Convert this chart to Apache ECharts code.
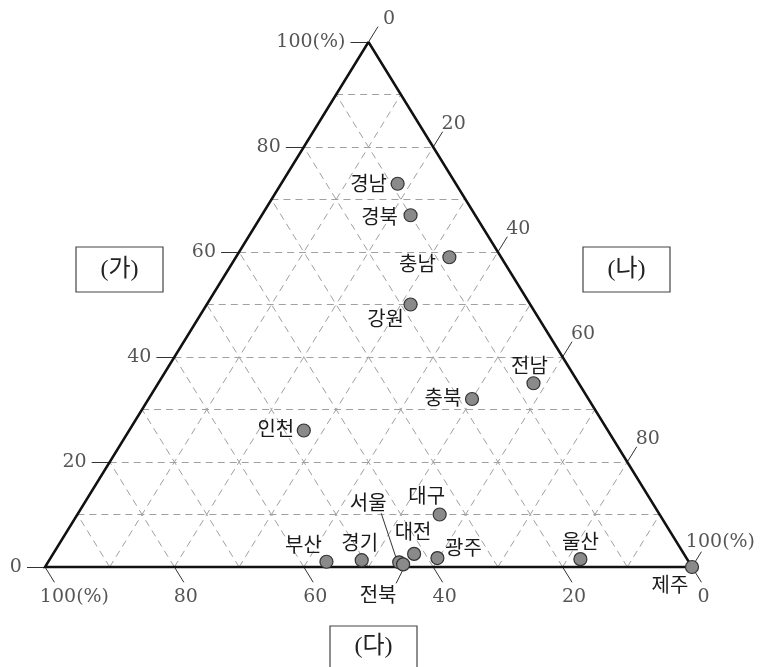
<!DOCTYPE html>
<html><head><meta charset="utf-8">
<script src="https://cdn.jsdelivr.net/npm/echarts@6/dist/echarts.min.js"></script>
<style>html,body{margin:0;padding:0;background:#fff}#c{width:762px;height:667px}</style>
</head><body><div id="c"></div>
<script>
// ---- data (percent shares) ----
const regions = ['경남','경북','충남','강원','인천','충북','전남','대구','부산','경기','서울','전북','대전','광주','울산','제주'];
const valGa = [73, 67, 59, 50, 26, 32, 35, 10, 1, 1.3, 0.9, 0.5, 2.5, 1.7, 1.5, 0];
const valNa = [18, 23, 33, 31.5, 27, 50, 58, 56, 43, 48.3, 54.3, 55.1, 55.8, 59.8, 82, 100];
const valDa = [9, 10, 8, 18.5, 47, 18, 7, 34, 56, 50.4, 44.8, 44.4, 41.7, 38.5, 16.5, 0];
const tickVals = [0, 20, 40, 60, 80, 100];
const tickLabels = ['0', '20', '40', '60', '80', '100(%)'];
const gridVals = [10, 20, 30, 40, 50, 60, 70, 80, 90];

// ---- styling / layout ----
const GL = 45, GT = 42, GW = 647, GH = 525;
const labelOffsets = {
  '경남': [-29, 0], '경북': [-31, 1], '충남': [-32, 6], '강원': [-25, 14], '인천': [-28, -2],
  '충북': [-29, -2], '전남': [-4, -18], '대구': [-13, -19], '부산': [-23, -17], '경기': [-2, -18],
  '서울': [-31, -60], '전북': [-25, 30], '대전': [-1, -22], '광주': [26, -11], '울산': [0, -18],
  '제주': [-22, 17]
};
const leaders = { '서울': [[-18, -49], [-3, -4]], '전북': [[-7, 19], [0, 5]] };

// ternary (가 top, 나 bottom-right, 다 bottom-left) -> cartesian
function tern(a, b, c) { const s = a + b + c; return [(b + a / 2) / s, a / s]; }

const TL = 18; // tick length px
const ux = 0.5246 * TL / GW, uy = 0.8513 * TL / GH;

const gridLines = [];
gridVals.forEach(v => {
  gridLines.push({ coords: [tern(v, 0, 100 - v), tern(v, 100 - v, 0)] });
  gridLines.push({ coords: [tern(0, v, 100 - v), tern(100 - v, v, 0)] });
  gridLines.push({ coords: [tern(0, 100 - v, v), tern(100 - v, 0, v)] });
});
const tri = [{ coords: [tern(100, 0, 0), tern(0, 100, 0), tern(0, 0, 100), tern(100, 0, 0)] }];

const ticks = [], leftLab = [], rightLab = [], botLab = [];
tickVals.forEach((v, i) => {
  // 가 axis (left edge)
  let p = tern(v, 0, 100 - v), e = [p[0] - TL / GW, p[1]];
  ticks.push({ coords: [p, e] });
  leftLab.push({ value: e, name: tickLabels[i] });
  // 나 axis (right edge)
  p = tern(100 - v, v, 0); e = [p[0] + ux, p[1] + uy];
  ticks.push({ coords: [p, e] });
  rightLab.push({ value: e, name: tickLabels[i],
    label: { offset: tickLabels[i] === '100(%)' ? [19, -10] : [11, -8] } });
  // 다 axis (bottom edge)
  p = tern(0, 100 - v, v); e = [p[0] + ux, p[1] - uy];
  ticks.push({ coords: [p, e] });
  botLab.push({ value: e, name: tickLabels[i],
    label: { offset: tickLabels[i] === '100(%)' ? [20, 15] : [2, 15] } });
});

const pts = regions.map((r, i) => ({
  name: r, value: tern(valGa[i], valNa[i], valDa[i]),
  label: { offset: labelOffsets[r] }
}));

const numFont = { fontFamily: 'DejaVu Serif', fontSize: 19, color: '#2a2a2a' };
const chart = echarts.init(document.getElementById('c'));
const option = {
  animation: false,
  backgroundColor: '#fff',
  grid: { left: GL, top: GT, width: GW, height: GH },
  xAxis: { type: 'value', min: 0, max: 1, show: false },
  yAxis: { type: 'value', min: 0, max: 1, show: false },
  series: [
    { type: 'lines', coordinateSystem: 'cartesian2d', silent: true, z: 1, clip: false,
      lineStyle: { color: '#a0a0a0', width: 1, type: [7, 5], opacity: 1 }, data: gridLines },
    { type: 'lines', coordinateSystem: 'cartesian2d', polyline: true, silent: true, z: 3, clip: false,
      lineStyle: { color: '#111', width: 2.5, opacity: 1 }, data: tri },
    { type: 'lines', coordinateSystem: 'cartesian2d', silent: true, z: 2, clip: false,
      lineStyle: { color: '#333', width: 1, opacity: 1 }, data: ticks },
    { type: 'scatter', symbolSize: 0.1, itemStyle: { color: 'transparent' }, silent: true, clip: false,
      label: Object.assign({ show: true, position: 'left', distance: 5, formatter: '{b}' }, numFont),
      data: leftLab },
    { type: 'scatter', symbolSize: 0.1, itemStyle: { color: 'transparent' }, silent: true, clip: false,
      label: Object.assign({ show: true, position: 'inside', formatter: '{b}' }, numFont),
      data: rightLab },
    { type: 'scatter', symbolSize: 0.1, itemStyle: { color: 'transparent' }, silent: true, clip: false,
      label: Object.assign({ show: true, position: 'inside', formatter: '{b}' }, numFont),
      data: botLab },
    { type: 'scatter', symbolSize: 13, z: 5, clip: false,
      itemStyle: { color: '#8a8a8a', borderColor: '#333', borderWidth: 1.2, opacity: 1 },
      label: { show: true, position: 'inside', formatter: '{b}', color: '#1a1a1a',
        fontFamily: 'Noto Sans CJK KR', fontSize: 20, textBorderWidth: 0 },
      data: pts }
  ]
};
chart.setOption(option);

// leader lines and boxes
const gfx = [];
Object.keys(leaders).forEach(r => {
  const i = regions.indexOf(r);
  const c = chart.convertToPixel({ gridIndex: 0 }, tern(valGa[i], valNa[i], valDa[i]));
  const [s, e] = leaders[r];
  gfx.push({ type: 'line', z: 4, shape: { x1: c[0] + s[0], y1: c[1] + s[1], x2: c[0] + e[0], y2: c[1] + e[1] },
    style: { stroke: '#333', lineWidth: 1 } });
});
const boxFont = '24px "Liberation Serif", "Noto Sans CJK KR"';
[['(가)', 76, 247, 87, 45], ['(나)', 583, 247, 87, 45], ['(다)', 330, 626, 87, 55]].forEach(b => {
  gfx.push({ type: 'rect', shape: { x: b[1], y: b[2], width: b[3], height: b[4] },
    style: { fill: 'none', stroke: '#444', lineWidth: 1.2 } });
  gfx.push({ type: 'text', x: b[1] + b[3] / 2, y: b[0] === '(다)' ? 647 : b[2] + b[4] / 2,
    style: { text: b[0], font: boxFont, fill: '#222', align: 'center', verticalAlign: 'middle' } });
});
chart.setOption({ graphic: gfx });
</script>
</body></html>
